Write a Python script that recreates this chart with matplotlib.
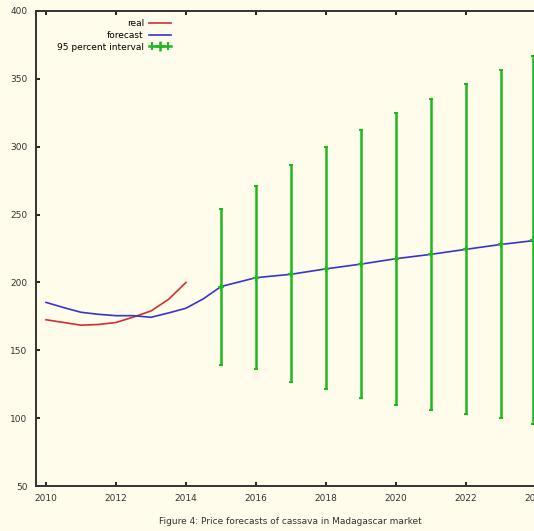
import numpy as np
import matplotlib.pyplot as plt
from matplotlib.lines import Line2D
from matplotlib.legend_handler import HandlerLine2D, HandlerTuple

# observed prices (semi-annual)
real_x = [2010, 2010.5, 2011, 2011.5, 2012, 2012.5, 2013, 2013.5, 2014]
real_y = [172.5, 170.5, 168.5, 169, 170.5, 174.5, 179, 187.5, 200]

# fitted + forecast
fc_x = [2010, 2010.5, 2011, 2011.5, 2012, 2012.5, 2013, 2013.5, 2014, 2014.5,
        2015, 2016, 2017, 2018, 2019, 2020, 2021, 2022, 2023, 2024]
fc_y = [185.3, 181.5, 178, 176.5, 175.5, 175.5, 174.3, 177.5, 181, 188,
        197, 203.5, 206, 210, 213.5, 217.5, 220.7, 224.4, 228, 231]

# 95 percent interval (last bar sits right at the cropped edge)
ci_x = [2015, 2016, 2017, 2018, 2019, 2020, 2021, 2022, 2023, 2023.92]
ci_mid = [197, 203.5, 206, 210, 213.5, 217.5, 220.7, 224.4, 228, 231]
ci_lo = [139.5, 136, 126.5, 121.5, 115, 110, 106, 103, 100, 96]
ci_hi = [254, 271, 286.5, 300, 312, 324.6, 335, 346, 356.5, 367]

bg = '#fffcec'
green = '#1fb81f'
fig = plt.figure(figsize=(5.34, 5.31), dpi=100, facecolor=bg)
ax = fig.add_axes([36/534, 1 - 486/531, 510/534, 475/531], facecolor=bg)

l_real, = ax.plot(real_x, real_y, color='#d03030', lw=1.2)
l_fc, = ax.plot(fc_x, fc_y, color='#3535d0', lw=1.2)
err = [np.array(ci_mid) - np.array(ci_lo), np.array(ci_hi) - np.array(ci_mid)]
ax.errorbar(ci_x, ci_mid, yerr=err, fmt='+', color=green, ecolor=green,
            elinewidth=1.8, capsize=1.5, capthick=1.2, markersize=5, mew=1.5)

# horizontal errorbar symbol for the legend
h_bar = Line2D([], [], color=green, lw=1.8, marker='+', markersize=7, mew=1.8)
h_caps = Line2D([], [], color=green, ls='none', marker='|', markersize=6, mew=1.5)

ax.set_xlim(2009.714, 2024.286)
ax.set_ylim(50, 400)
ax.set_xticks(range(2010, 2025, 2))
ax.set_yticks(range(50, 401, 50))
ax.tick_params(direction='in', top=True, right=True, length=3, width=1.2,
               labelsize=6.5, labelcolor='#333333', pad=6)
for s in ax.spines.values():
    s.set_linewidth(1.4)
    s.set_color('#333333')

ax.legend([l_real, l_fc, (h_bar, h_caps)], ['real', 'forecast', '95 percent interval'],
          loc='upper left', bbox_to_anchor=(0.025, 1.0), frameon=False,
          markerfirst=False, fontsize=6.5, handlelength=2.4, labelspacing=0.3,
          handletextpad=0.6, alignment='right',
          handler_map={h_bar: HandlerLine2D(numpoints=1),
                       h_caps: HandlerLine2D(numpoints=2),
                       tuple: HandlerTuple(ndivide=1)})

fig.text(290/534, 1 - 521/531, 'Figure 4: Price forecasts of cassava in Madagascar market',
         ha='center', va='center', fontsize=6.5, color='#333333')

fig.savefig('out.png', dpi=100, facecolor=bg)
